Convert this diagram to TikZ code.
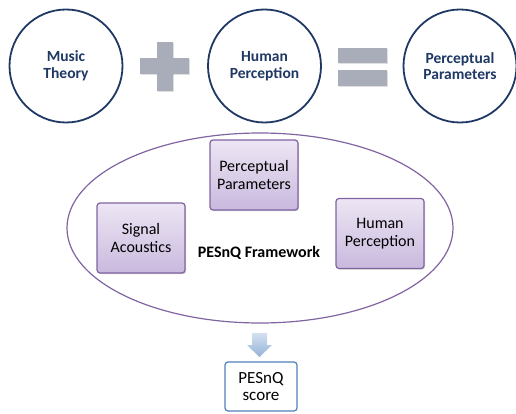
\documentclass[tikz,border=0pt]{standalone}
\usepackage{fontspec}
\setmainfont{Carlito}
\usetikzlibrary{shadows,shapes.geometric}
\definecolor{navy}{HTML}{1F3864}
\definecolor{opgray}{HTML}{A9ADBA}
\definecolor{purp}{HTML}{8064A2}
\definecolor{lavtop}{HTML}{EDE6F4}
\definecolor{lavbot}{HTML}{C9B9DE}
\definecolor{bluebord}{HTML}{4F81BD}
\definecolor{arrtop}{HTML}{D3E0F0}
\definecolor{arrbot}{HTML}{95B3D7}
\begin{document}
\begin{tikzpicture}[x=1pt,y=-1pt,
  bigcircle/.style={circle,draw=navy,line width=1.8pt,fill=white,minimum size=113pt,inner sep=0pt,
    font=\fontsize{15.5}{16.5}\selectfont\bfseries,text=navy,align=center},
  opbar/.style={fill=opgray,draw=none,drop shadow={shadow xshift=0.6pt,shadow yshift=-0.6pt,opacity=0.25}},
  lavbox/.style={rectangle,rounded corners=3pt,draw=purp,line width=1.2pt,top color=lavtop,bottom color=lavbot,
    minimum width=88pt,minimum height=70pt,align=center,font=\fontsize{16}{17.5}\selectfont,
    drop shadow={shadow xshift=1pt,shadow yshift=-1.2pt,opacity=0.35}},
  scorebox/.style={rectangle,rounded corners=3pt,draw=bluebord,line width=1.2pt,fill=white,
    minimum width=72pt,minimum height=49pt,align=center,font=\fontsize{17}{17.5}\selectfont}
]
\useasboundingbox (0,0) rectangle (516,414);
% top row
\node[bigcircle] (music) at (66,66) {Music\\Theory};
\node[bigcircle] (human) at (264.5,66) {Human\\Perception};
\node[bigcircle] (percep) at (460,66) {Perceptual\\Parameters};
% plus sign
\fill[opbar] (157,42) rectangle (173,91);
\fill[opbar] (140,58) rectangle (189,74);
\fill[opgray] (157,42) rectangle (173,91);
% equals sign
\fill[opbar] (338,48) rectangle (387,63);
\fill[opbar] (338,70) rectangle (387,86);
% framework ellipse
\node[ellipse,draw=purp,line width=1.2pt,minimum width=386pt,minimum height=190pt,inner sep=0pt] (frame) at (260,228) {};
\node[lavbox] (pp) at (254,175) {Perceptual\\Parameters};
\node[lavbox] (sa) at (141,238) {Signal\\Acoustics};
\node[lavbox] (hp) at (380,233.5) {Human\\Perception};
\node[font=\fontsize{16}{17}\selectfont\bfseries] (fw) at (259,253) {PESnQ Framework};
% arrow and score
\node[scorebox] (score) at (261,386.5) {PESnQ\\score};
\shade[top color=arrtop,bottom color=arrbot]
  (252,333) -- (267,333) -- (267,345) -- (272,345) -- (259.5,357) -- (247,345) -- (252,345) -- cycle;
\end{tikzpicture}
\end{document}
